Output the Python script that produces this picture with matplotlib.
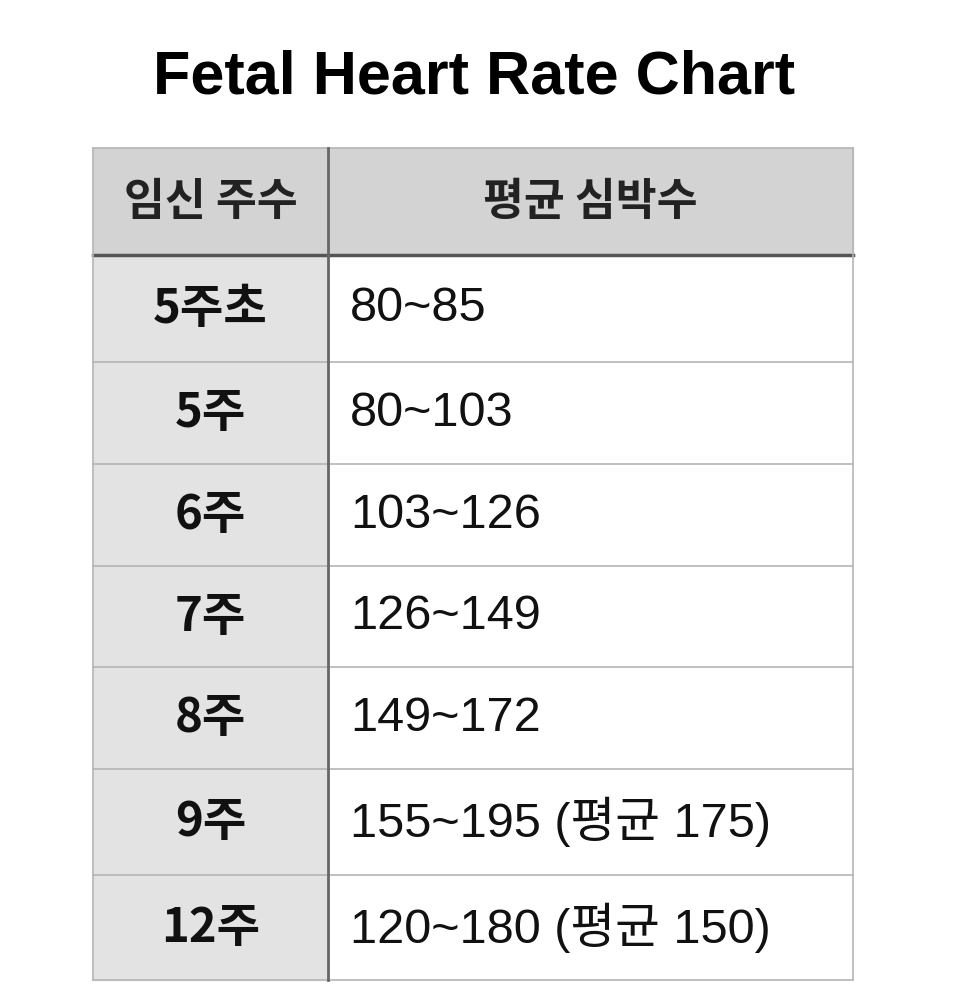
import matplotlib.pyplot as plt
from matplotlib.patches import Rectangle

plt.rcParams['font.family'] = ['Noto Sans CJK KR', 'DejaVu Sans']

title = "Fetal Heart Rate Chart"
headers = ["임신 주수", "평균 심박수"]
weeks = ["5주초", "5주", "6주", "7주", "8주", "9주", "12주"]
rates = ["80~85", "80~103", "103~126", "126~149", "149~172",
         "155~195 (평균 175)", "120~180 (평균 150)"]

# layout in pixels
left, mid, right = 93, 328, 853
top, head_bot = 148, 255
row_edges = [255, 362, 464, 566, 667, 769, 875, 980]

fig = plt.figure(figsize=(9.54, 10.05), dpi=100)
ax = fig.add_axes([0, 0, 1, 1])
ax.set_xlim(0, 954)
ax.set_ylim(1005, 0)
ax.axis('off')

ax.text(474, 78, title, ha='center', va='center', fontsize=44,
        fontweight='bold', family=['Liberation Sans', 'DejaVu Sans'])

# backgrounds
ax.add_patch(Rectangle((left, top), right - left, head_bot - top, color='#d3d3d3', zorder=0))
ax.add_patch(Rectangle((left, head_bot), mid - left, row_edges[-1] - head_bot, color='#e3e3e3', zorder=0))

# grid lines
lc = '#b5b5b5'
ax.plot([left, right], [top, top], color=lc, lw=1.2)
for y in row_edges[1:]:
    ax.plot([left, right], [y, y], color=lc, lw=1.2)
ax.plot([left, right], [head_bot, head_bot], color='#555555', lw=2.5)
for x in (left, right):
    ax.plot([x, x], [top, row_edges[-1]], color=lc, lw=1.2)
ax.plot([mid, mid], [top, row_edges[-1]], color='#666666', lw=2)

hy = (top + head_bot) / 2
ax.text((left + mid) / 2, hy, headers[0], ha='center', va='center', fontsize=32,
        fontweight='bold', color='#222222')
ax.text((mid + right) / 2, hy, headers[1], ha='center', va='center', fontsize=32,
        fontweight='bold', color='#222222')

for i, (w, r) in enumerate(zip(weeks, rates)):
    cy = (row_edges[i] + row_edges[i + 1]) / 2
    ax.text((left + mid) / 2, cy, w, ha='center', va='center', fontsize=34,
            fontweight='bold', color='#111111')
    ax.text(350, cy, r, ha='left', va='center', fontsize=35, color='#111111',
            family=['Liberation Sans', 'Noto Sans CJK KR'])

fig.savefig('out.png', dpi=100, facecolor='white')
